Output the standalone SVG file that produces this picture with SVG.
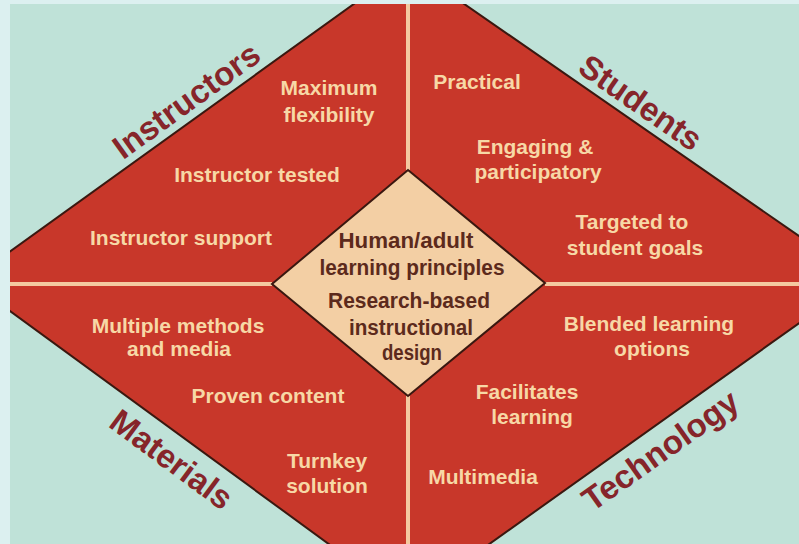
<svg xmlns="http://www.w3.org/2000/svg" width="799" height="544" viewBox="0 0 799 544">
<style>
.item{font-family:"Liberation Sans",Arial,sans-serif;font-weight:bold;font-size:21px;fill:#f7d8a6;text-anchor:middle}
.cat{font-family:"Liberation Sans",Arial,sans-serif;font-weight:bold;font-size:33px;fill:#86252a;text-anchor:middle}
.core{font-family:"Liberation Sans",Arial,sans-serif;font-weight:bold;font-size:22px;fill:#5c2a1c;text-anchor:middle}
.div{stroke:#f4c9a0;stroke-width:4;fill:none}
</style>
<rect x="0" y="0" width="799" height="544" fill="#bfe2d8"/>
<g id="board">
<polygon points="408,-35 861,279 408,602 -31,281" fill="#c8372a" stroke="#3a1810" stroke-width="2"/>
</g>
<g id="connectors">
<line class="div" x1="408" y1="0" x2="408" y2="170"/>
<line class="div" x1="408" y1="396" x2="408" y2="544"/>
<line class="div" x1="0" y1="284" x2="272" y2="284"/>
<line class="div" x1="545" y1="284" x2="799" y2="284"/>
</g>
<g id="core">
<polygon points="408,170 545,283 408,396 272,284" fill="#f3cfa4" stroke="#3a1810" stroke-width="2"/>
<text class="core" x="406" y="248" textLength="135" lengthAdjust="spacingAndGlyphs">Human/adult</text>
<text class="core" x="412" y="275" textLength="185" lengthAdjust="spacingAndGlyphs">learning principles</text>
<text class="core" x="409" y="308" textLength="162" lengthAdjust="spacingAndGlyphs">Research-based</text>
<text class="core" x="411" y="335" textLength="124" lengthAdjust="spacingAndGlyphs">instructional</text>
<text class="core" x="412" y="360" textLength="60" lengthAdjust="spacingAndGlyphs">design</text>
</g>
<g id="instructors">
<text class="cat" transform="translate(186,100) rotate(-35.8)" x="0" y="12">Instructors</text>
<text class="item" x="329" y="95">Maximum</text>
<text class="item" x="329" y="122">flexibility</text>
<text class="item" x="257" y="182">Instructor tested</text>
<text class="item" x="181" y="245">Instructor support</text>
</g>
<g id="students">
<text class="cat" transform="translate(641,102) rotate(34.8)" x="0" y="12">Students</text>
<text class="item" x="477" y="89">Practical</text>
<text class="item" x="535" y="154">Engaging &amp;</text>
<text class="item" x="538" y="179">participatory</text>
<text class="item" x="632" y="229">Targeted to</text>
<text class="item" x="635" y="255">student goals</text>
</g>
<g id="materials">
<text class="cat" transform="translate(172,459) rotate(36.5)" x="0" y="12">Materials</text>
<text class="item" x="178" y="333">Multiple methods</text>
<text class="item" x="179" y="356">and media</text>
<text class="item" x="268" y="403">Proven content</text>
<text class="item" x="327" y="468">Turnkey</text>
<text class="item" x="327" y="493">solution</text>
</g>
<g id="technology">
<text class="cat" transform="translate(660,450) rotate(-35.3)" x="0" y="12">Technology</text>
<text class="item" x="649" y="331">Blended learning</text>
<text class="item" x="652" y="356">options</text>
<text class="item" x="527" y="399">Facilitates</text>
<text class="item" x="532" y="424">learning</text>
<text class="item" x="483" y="484">Multimedia</text>
</g>
<g id="frame">
<rect x="0" y="0" width="10" height="544" fill="#dcf0f0"/>
<rect x="0" y="0" width="799" height="4" fill="#dcf0f0"/>
</g>
</svg>
